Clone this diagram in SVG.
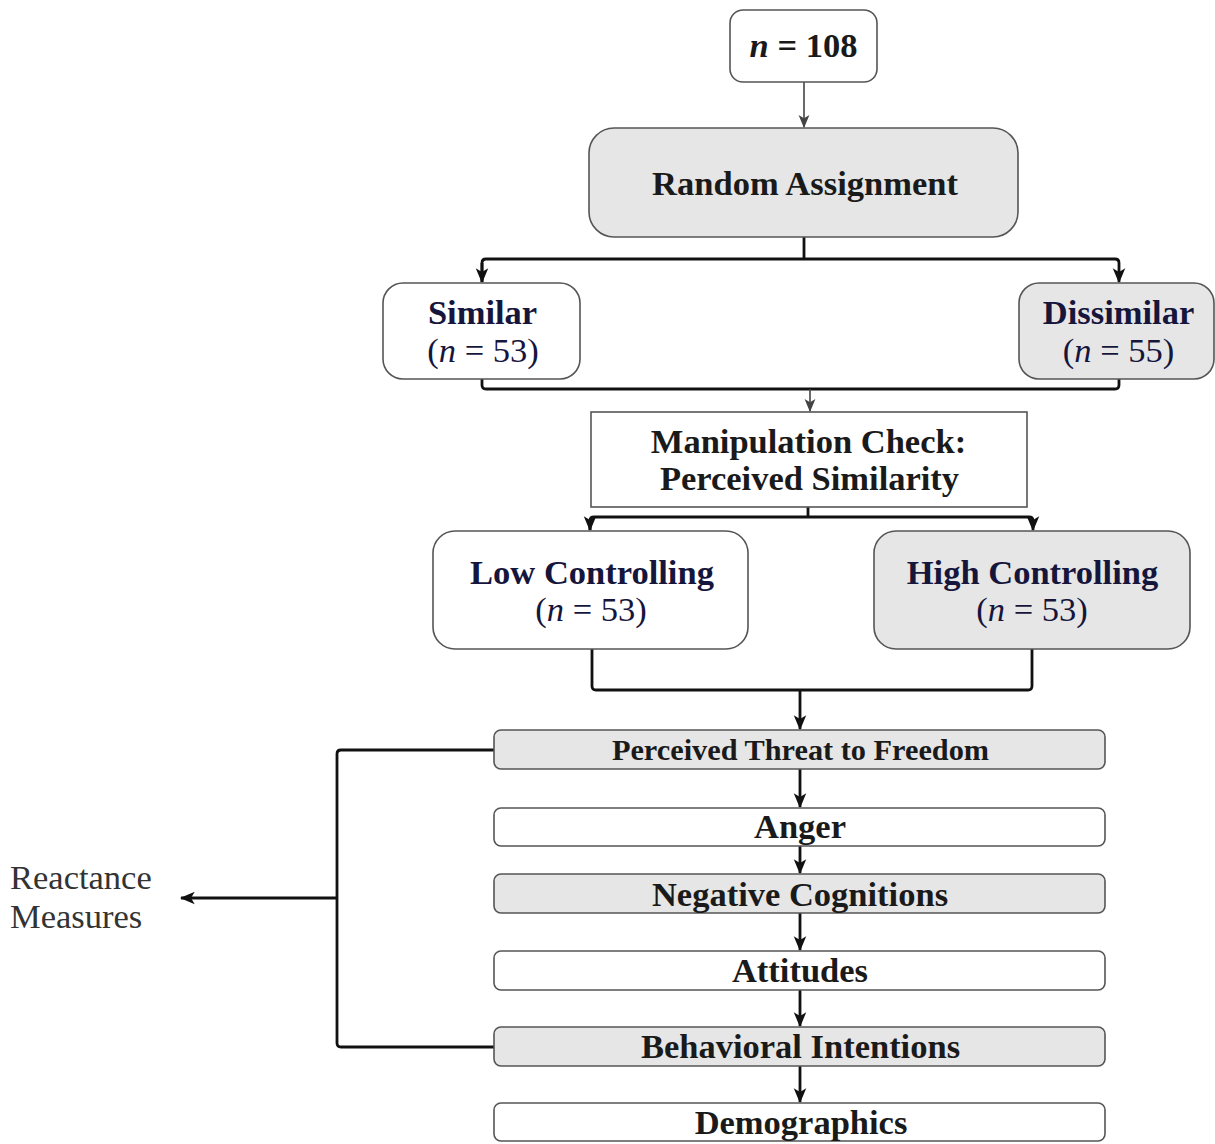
<svg xmlns="http://www.w3.org/2000/svg" width="1215" height="1144" viewBox="0 0 1215 1144">
<defs>
<style>
.box{stroke:#555;stroke-width:1.6}
.w{fill:#fff}
.g{fill:#e6e6e6}
.t{font-family:"Liberation Serif","Times New Roman",serif;font-size:34.5px;text-anchor:middle;fill:#1a1a1a}
.b{font-weight:bold}
.nv{fill:#16163d}
.c{fill:none;stroke:#111;stroke-width:2.8;stroke-linejoin:round}
.thin{fill:none;stroke:#444;stroke-width:1.6}
</style>
<marker id="ah" viewBox="0 0 12 12" refX="11" refY="6" markerWidth="15" markerHeight="15" markerUnits="userSpaceOnUse" orient="auto">
<path d="M0,1 L12,6 L0,11 L3,6 Z" fill="#111"/>
</marker>
<marker id="ahs" viewBox="0 0 12 12" refX="11" refY="6" markerWidth="13" markerHeight="13" markerUnits="userSpaceOnUse" orient="auto">
<path d="M0,1 L12,6 L0,11 L3,6 Z" fill="#444"/>
</marker>
</defs>
<rect width="1215" height="1144" fill="#fff"/>

<g id="connectors">
<line class="thin" x1="804" y1="82" x2="804" y2="127" marker-end="url(#ahs)"/>
<path class="c" d="M804,237 V259"/>
<path class="c" d="M482,282 V263 Q482,259 486,259 H1115 Q1119,259 1119,263 V282" marker-end="url(#ah)"/>
<path class="c" d="M482,263 V282" marker-end="url(#ah)"/>
<path class="c" d="M482,379 V385 Q482,389 486,389 H1115 Q1119,389 1119,385 V379"/>
<line class="thin" x1="810" y1="389" x2="810" y2="411" stroke-width="2" marker-end="url(#ahs)"/>
<path class="c" d="M808,507 V517"/>
<path class="c" d="M590,530 V521 Q590,517 594,517 H1029 Q1033,517 1033,521 V530" marker-end="url(#ah)"/>
<path class="c" d="M590,521 V530" marker-end="url(#ah)"/>
<path class="c" d="M592,649 V686 Q592,690 596,690 H1028 Q1032,690 1032,686 V649"/>
<line class="c" x1="800" y1="690" x2="800" y2="729" marker-end="url(#ah)"/>
<line class="c" x1="800" y1="769" x2="800" y2="807" marker-end="url(#ah)"/>
<line class="c" x1="800" y1="846" x2="800" y2="873" marker-end="url(#ah)"/>
<line class="c" x1="800" y1="913" x2="800" y2="950" marker-end="url(#ah)"/>
<line class="c" x1="800" y1="990" x2="800" y2="1026" marker-end="url(#ah)"/>
<line class="c" x1="800" y1="1066" x2="800" y2="1102" marker-end="url(#ah)"/>
<path class="c" d="M494,750 H341 Q337,750 337,754 V1043 Q337,1047 341,1047 H494"/>
<line class="c" x1="337" y1="898" x2="181" y2="898" marker-end="url(#ah)"/>
</g>

<g id="n108">
<rect class="box w" x="730" y="10" width="147" height="72" rx="13"/>
<text class="t b" x="803.5" y="57"><tspan font-style="italic">n</tspan> = 108</text>
</g>
<g id="random">
<rect class="box g" x="589" y="128" width="429" height="109" rx="25"/>
<text class="t b" x="805" y="195">Random Assignment</text>
</g>
<g id="similar">
<rect class="box w" x="383" y="283" width="197" height="96" rx="20"/>
<text class="t b nv" x="482.5" y="324">Similar</text>
<text class="t nv" x="483" y="362">(<tspan font-style="italic">n</tspan> = 53)</text>
</g>
<g id="dissimilar">
<rect class="box g" x="1019" y="283" width="195" height="96" rx="20"/>
<text class="t b nv" x="1118.5" y="324">Dissimilar</text>
<text class="t nv" x="1118.5" y="362">(<tspan font-style="italic">n</tspan> = 55)</text>
</g>
<g id="manip">
<rect class="box w" x="591" y="412" width="436" height="95"/>
<text class="t b" x="808.5" y="453">Manipulation Check:</text>
<text class="t b" x="809.5" y="490">Perceived Similarity</text>
</g>
<g id="lowctrl">
<rect class="box w" x="433" y="531" width="315" height="118" rx="22"/>
<text class="t b nv" x="592" y="584">Low Controlling</text>
<text class="t nv" x="591" y="621">(<tspan font-style="italic">n</tspan> = 53)</text>
</g>
<g id="highctrl">
<rect class="box g" x="874" y="531" width="316" height="118" rx="22"/>
<text class="t b nv" x="1032.5" y="584">High Controlling</text>
<text class="t nv" x="1032" y="621">(<tspan font-style="italic">n</tspan> = 53)</text>
</g>
<g id="threat">
<rect class="box g" x="494" y="730" width="611" height="39" rx="7"/>
<text class="t b" x="800.5" y="760" style="font-size:30.3px">Perceived Threat to Freedom</text>
</g>
<g id="anger">
<rect class="box w" x="494" y="808" width="611" height="38" rx="7"/>
<text class="t b" x="800" y="838">Anger</text>
</g>
<g id="negcog">
<rect class="box g" x="494" y="874" width="611" height="39" rx="7"/>
<text class="t b" x="800" y="906">Negative Cognitions</text>
</g>
<g id="attitudes">
<rect class="box w" x="494" y="951" width="611" height="39" rx="7"/>
<text class="t b" x="800" y="982">Attitudes</text>
</g>
<g id="behav">
<rect class="box g" x="494" y="1027" width="611" height="39" rx="7"/>
<text class="t b" x="800.5" y="1058">Behavioral Intentions</text>
</g>
<g id="demo">
<rect class="box w" x="494" y="1103" width="611" height="38" rx="7"/>
<text class="t b" x="801" y="1134">Demographics</text>
</g>
<g id="reactance">
<text class="t" x="10" y="889" style="text-anchor:start;fill:#333">Reactance</text>
<text class="t" x="10" y="928" style="text-anchor:start;fill:#333">Measures</text>
</g>
</svg>
